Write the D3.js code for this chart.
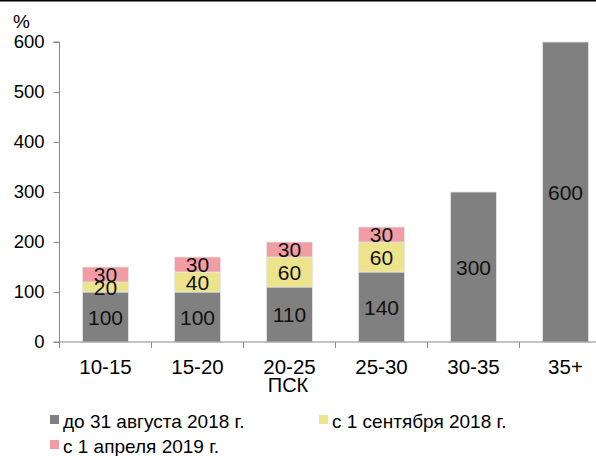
<!DOCTYPE html>
<html><head><meta charset="utf-8">
<script src="https://cdn.jsdelivr.net/npm/d3@7"></script>
<style>body{margin:0;background:#fff}svg{display:block;font-family:"Liberation Sans",Arial,sans-serif}</style>
</head><body>
<script>
const categories = ["10-15","15-20","20-25","25-30","30-35","35+"];
const seriesNames = ["до 31 августа 2018 г.","с 1 сентября 2018 г.","с 1 апреля 2019 г."];
const s1 = [100,100,110,140,300,600];
const s2 = [20,40,60,60,0,0];
const s3 = [30,30,30,30,0,0];
const yTicks = [0,100,200,300,400,500,600];
const colors = ["#808080","#EDE38A","#F29CA4"];

const W=596,H=456;
const svg=d3.select("body").append("svg").attr("width",W).attr("height",H);
svg.append("rect").attr("x",0).attr("y",0).attr("width",W).attr("height",1.5).attr("fill","#000");

const x0=59.5, step=92;
const x=d3.scaleBand().domain(categories).range([x0,x0+step*categories.length]).paddingInner(0.5).paddingOuter(0.25);
const y=d3.scaleLinear().domain([0,600]).range([342,42]);

const rows=categories.map((c,i)=>({cat:c,v:[s1[i],s2[i],s3[i]]}));
const segs=[];
rows.forEach(r=>{let acc=0;r.v.forEach((v,k)=>{if(v>0){segs.push({cat:r.cat,k,y0:acc,y1:acc+v,v});}acc+=v;});});

const g=svg.append("g");
g.selectAll("rect.bar").data(segs).enter().append("rect")
 .attr("x",d=>x(d.cat)).attr("width",x.bandwidth())
 .attr("y",d=>y(d.y1)).attr("height",d=>y(d.y0)-y(d.y1))
 .attr("fill",d=>colors[d.k]).attr("stroke","#e6e6e6").attr("stroke-width",0.8);

// axes
const axisColor="#888";
const yAxis=svg.append("g").attr("transform",`translate(${x0},0)`)
 .call(d3.axisLeft(y).tickValues(yTicks).tickSize(6).tickPadding(9));
yAxis.select(".domain").attr("stroke",axisColor).attr("d",`M-6,${y(600)}H0V${y(0)}`);
yAxis.selectAll(".tick line").attr("stroke",axisColor);
yAxis.selectAll("text").attr("font-size",18.5).attr("fill","#000").attr("font-family","Liberation Sans, Arial, sans-serif");

const xb=svg.append("g");
xb.append("line").attr("x1",x0-6).attr("x2",W).attr("y1",y(0)).attr("y2",y(0)).attr("stroke",axisColor);
const bounds=d3.range(categories.length+1).map(i=>x0+i*step);
xb.selectAll("line.t").data(bounds).enter().append("line")
 .attr("x1",d=>d).attr("x2",d=>d).attr("y1",y(0)).attr("y2",y(0)+6).attr("stroke",axisColor);
xb.selectAll("text").data(categories).enter().append("text")
 .attr("x",d=>x(d)+x.bandwidth()/2).attr("y",374).attr("text-anchor","middle")
 .attr("font-size",20.5).text(d=>d);

svg.append("text").attr("x",288).attr("y",392).attr("text-anchor","middle").attr("font-size",20).text("ПСК");
svg.append("text").attr("x",13).attr("y",28).attr("font-size",19).text("%");

// labels
g.selectAll("text.lab").data(segs).enter().append("text")
 .attr("x",d=>x(d.cat)+x.bandwidth()/2).attr("y",d=>(y(d.y0)+y(d.y1))/2+7.5)
 .attr("text-anchor","middle").attr("font-size",21).attr("fill","#111").text(d=>d.v);

// legend
const leg=[{x:50,y:415,k:0},{x:319,y:415,k:1},{x:50,y:440,k:2}];
leg.forEach(l=>{
 svg.append("rect").attr("x",l.x).attr("y",l.y).attr("width",9).attr("height",9).attr("fill",colors[l.k]);
 svg.append("text").attr("x",l.x+13).attr("y",l.y+12.5).attr("font-size",19).text(seriesNames[l.k]);
});
</script>
</body></html>
